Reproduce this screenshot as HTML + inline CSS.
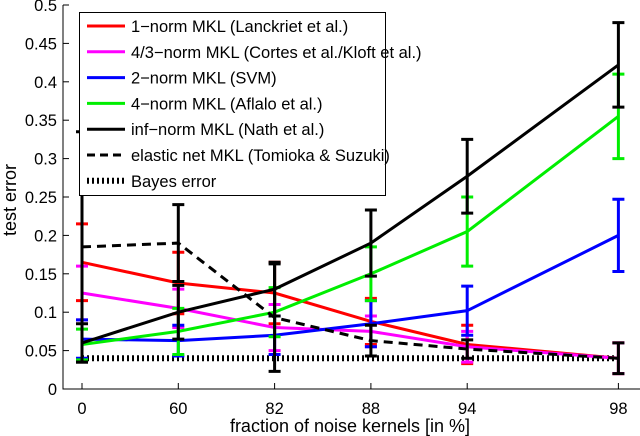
<!DOCTYPE html>
<html><head><meta charset="utf-8"><style>
html,body{margin:0;padding:0;background:#fff;}
svg{display:block;font-family:"Liberation Sans",sans-serif;}
</style></head><body>
<svg id="chart" width="640" height="436" viewBox="0 0 640 436" xmlns="http://www.w3.org/2000/svg">
<g id="axes"></g>
<g id="series"></g>
<g id="legend"></g>
</svg>
<script>
const categories = ["0","60","82","88","94","98"];
const xPos = [0,1,2,3,4,5.57];
const yTicks = [0,0.05,0.1,0.15,0.2,0.25,0.3,0.35,0.4,0.45,0.5];
const yTickLabels = ["0","0.05","0.1","0.15","0.2","0.25","0.3","0.35","0.4","0.45","0.5"];
const oneNorm = [0.165,0.138,0.125,0.088,0.058,0.040];
const oneNormErr = [0.05,0.04,0.04,0.03,0.025,0.02];
const fourThirdsNorm = [0.125,0.105,0.080,0.075,0.055,0.040];
const fourThirdsNormErr = [0.035,0.025,0.03,0.02,0.02,0.02];
const twoNorm = [0.065,0.063,0.070,0.085,0.102,0.200];
const twoNormErr = [0.025,0.02,0.025,0.03,0.032,0.047];
const fourNorm = [0.058,0.075,0.100,0.150,0.205,0.355];
const fourNormErr = [0.02,0.03,0.032,0.035,0.045,0.055];
const infNorm = [0.060,0.100,0.130,0.190,0.277,0.422];
const infNormErr = [0.025,0.035,0.035,0.043,0.048,0.055];
const elasticNet = [0.185,0.190,0.093,0.063,0.052,0.040];
const elasticNetErr = [0.15,0.05,0.07,0.02,0.012,0.02];
const bayes = [0.04,0.04,0.04,0.04,0.04,0.04];
const legendLabels = ["1\u2212norm MKL (Lanckriet et al.)","4/3\u2212norm MKL (Cortes et al./Kloft et al.)","2\u2212norm MKL (SVM)","4\u2212norm MKL (Aflalo et al.)","inf\u2212norm MKL (Nath et al.)","elastic net MKL (Tomioka & Suzuki)","Bayes error"];

const NS="http://www.w3.org/2000/svg";
const X0=82, XS=96.3, Y0=389, YS=768;
function xs(i){return X0+xPos[i]*XS;}
function ys(v){return Y0-v*YS;}
function mk(tag,attrs,parent){const e=document.createElementNS(NS,tag);for(const k in attrs)e.setAttribute(k,attrs[k]);parent.appendChild(e);return e;}
const axes=document.getElementById('axes'), ser=document.getElementById('series'), leg=document.getElementById('legend');

let a=mk('path',{d:`M63,5 L63,389 L640,389`,fill:'none',stroke:'#000','stroke-width':1},axes);


yTicks.forEach((v,i)=>{
  let t=mk('line',{x1:63,x2:69,y1:ys(v),y2:ys(v),stroke:'#000'},axes);
  
  
  let l=mk('text',{x:57,y:ys(v)+6,'text-anchor':'end','font-size':16.5},axes);
  l.textContent=yTickLabels[i];
  
  
});
categories.forEach((c,i)=>{
  let t=mk('line',{x1:xs(i),x2:xs(i),y1:389,y2:383,stroke:'#000'},axes);
  
  
  let l=mk('text',{x:xs(i),y:414,'text-anchor':'middle','font-size':16.5},axes);
  l.textContent=c;
  
  
});
let xl=mk('text',{x:350,y:432,'text-anchor':'middle','font-size':18},axes);
xl.textContent="fraction of noise kernels [in %]";


let yl=mk('text',{x:0,y:0,'text-anchor':'middle','font-size':18,transform:'translate(16,200) rotate(-90)'},axes);
yl.textContent="test error";



const seriesDefs=[
 {v:oneNorm,e:oneNormErr,c:'#ff0000',d:null,n:'one-norm'},
 {v:fourThirdsNorm,e:fourThirdsNormErr,c:'#ff00ff',d:null,n:'four-thirds-norm'},
 {v:twoNorm,e:twoNormErr,c:'#0000ff',d:null,n:'two-norm'},
 {v:fourNorm,e:fourNormErr,c:'#00ee00',d:null,n:'four-norm'},
 {v:elasticNet,e:elasticNetErr,c:'#000',d:'9,6',n:'elastic-net'},
 {v:infNorm,e:infNormErr,c:'#000',d:null,n:'inf-norm'},
];
let bp=mk('path',{d:bayes.map((v,i)=>(i?'L':'M')+xs(i)+','+ys(v)).join(' '),fill:'none',stroke:'#000','stroke-width':6,'stroke-dasharray':'2,3'},ser);


seriesDefs.forEach(s=>{
  s.v.forEach((v,i)=>{
    const x=xs(i),lo=ys(Math.max(0,v-s.e[i])),hi=ys(Math.min(0.5,v+s.e[i]));
    let eb=mk('path',{d:`M${x},${lo} L${x},${hi} M${x-6},${lo} L${x+6},${lo} M${x-6},${hi} L${x+6},${hi}`,stroke:s.c,'stroke-width':3,fill:'none'},ser);
    
    
  });
  let p=mk('path',{d:s.v.map((v,i)=>(i?'L':'M')+xs(i)+','+ys(v)).join(' '),fill:'none',stroke:s.c,'stroke-width':3},ser);
  if(s.d)p.setAttribute('stroke-dasharray',s.d);
  
  
});

let box=mk('rect',{x:79.5,y:12.5,width:306,height:183,fill:'#fff',stroke:'#000'},leg);


const legStyles=[['#ff0000',null,3],['#ff00ff',null,3],['#0000ff',null,3],['#00ee00',null,3],['#000',null,3],['#000','8,5',3],['#000','2,3',6]];
legendLabels.forEach((t,i)=>{
  const y=26+i*25.8;
  let ln=mk('line',{x1:87,x2:125,y1:y,y2:y,stroke:legStyles[i][0],'stroke-width':legStyles[i][2]},leg);
  if(legStyles[i][1])ln.setAttribute('stroke-dasharray',legStyles[i][1]);
  
  
  let tx=mk('text',{x:131,y:y+6,'font-size':16.5,textLength:0},leg);
  tx.removeAttribute('textLength');
  tx.textContent=t;
  
  
});
</script>
</body></html>
